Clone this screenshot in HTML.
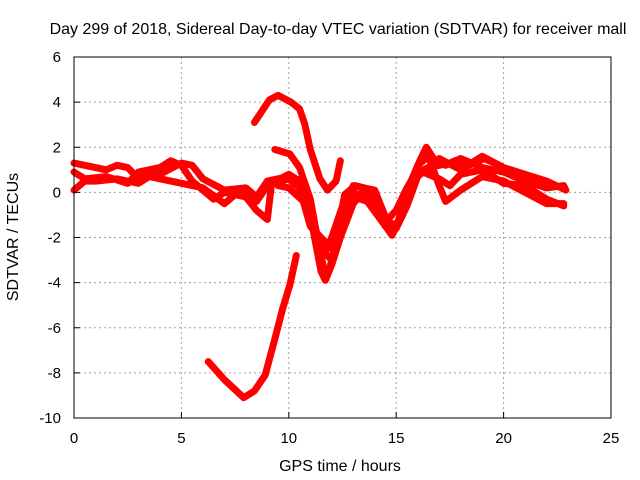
<!DOCTYPE html>
<html><head><meta charset="utf-8"><style>
body{margin:0;background:#fff}
svg{display:block;font-family:"Liberation Sans",sans-serif}
</style></head><body>
<svg id="chart" width="640" height="480" viewBox="0 0 640 480">
<rect width="640" height="480" fill="#fff"/>
<text x="338" y="34" font-size="16" text-anchor="middle">Day 299 of 2018, Sidereal Day-to-day VTEC variation (SDTVAR) for receiver mall</text>
<text x="340" y="471" font-size="16" text-anchor="middle">GPS time / hours</text>
<text x="0" y="0" font-size="16" text-anchor="middle" transform="translate(18,237) rotate(-90)">SDTVAR / TECUs</text>
<g id="grid"></g><g id="series"></g><g id="axes"></g>
</svg>
<script>
const xTicks=[0,5,10,15,20,25];
const yTicks=[6,4,2,0,-2,-4,-6,-8,-10];
const s1=[[8.4,3.1],[9.1,4.1],[9.5,4.3],[10.1,4.0],[10.5,3.7],[10.75,3.0],[11.0,1.9],[11.45,0.6],[11.8,0.1],[12.2,0.5],[12.4,1.4]];
const s2=[[6.25,-7.5],[7.0,-8.3],[7.9,-9.1],[8.4,-8.8],[8.9,-8.1],[9.35,-6.5],[9.7,-5.2],[10.05,-4.1],[10.35,-2.8]];
const s3=[[9.35,1.9],[10.05,1.7],[10.5,1.1],[11.0,-0.3],[11.35,-2.1],[11.7,-3.7],[11.9,-3.4],[12.3,-1.7],[12.6,-0.1],[13.1,0.3],[13.5,0.2],[14.0,-0.3],[14.5,-1.4],[14.85,-1.8],[15.2,-1.0],[15.6,0.3],[16.1,1.4],[16.4,2.0],[16.8,1.4],[17.3,1.2],[17.75,1.4],[18.4,1.2],[19.1,1.5],[19.8,1.2],[20.5,0.8],[21.2,0.6],[21.9,0.5],[22.4,0.3],[22.85,0.2]];
const s4=[[0,1.3],[1,1.1],[1.5,1.0],[2,1.2],[2.5,1.1],[3,0.6],[4,0.8],[5,1.3],[5.5,1.2],[6,0.6],[7,0.1],[8,0.2],[8.5,-0.2],[9,0.5],[9.5,0.6],[10,0.7],[10.5,0.4],[11,-0.8],[11.5,-2.5],[12,-3.0],[12.3,-2.2],[12.6,-0.5],[13,-0.2],[14,-0.5],[14.5,-1.5],[15,-1.5],[15.5,-0.3],[16,0.9],[16.5,1.1],[17.5,1.3],[18,1.5],[19,1.1],[20,0.9],[21,0.5],[22,0.2],[22.8,0.3]];
const s5=[[0,0.1],[0.5,0.5],[1,0.5],[2,0.6],[3,0.4],[3.5,0.7],[4,0.6],[5,0.4],[6,0.2],[7,-0.5],[7.5,-0.1],[8,0.1],[8.5,-0.4],[9,0.3],[10,0.8],[10.5,0.5],[11,-1.0],[11.5,-3.5],[11.7,-3.9],[12,-3.2],[12.4,-2.0],[13,-0.5],[13.5,0.1],[14,-0.3],[14.5,-1.3],[15,-0.8],[15.5,0.2],[16,1.0],[17,0.6],[17.5,0.3],[18,0.8],[19,1.0],[20,0.4],[21,0.3],[22,-0.3],[22.8,-0.6]];
const s6=[[0,0.9],[0.5,0.6],[1.5,0.7],[2.5,0.4],[3,0.9],[4,1.1],[4.5,1.4],[5,1.2],[5.5,0.5],[6.5,-0.3],[7,0],[8,-0.2],[8.5,-0.8],[9,-1.2],[9.2,0.4],[10,0.6],[10.5,0.2],[11,-1.5],[11.5,-2.0],[12,-2.5],[12.5,-1.0],[13,0.3],[14,0.1],[14.5,-1.1],[15,-1.6],[15.5,-0.6],[16,0.7],[17,1.5],[18,1.0],[19,1.6],[20,1.1],[21,0.8],[22,0.5],[22.9,0.1]];
const s7=[[9.5,0.3],[10,0.2],[10.8,-0.5],[11.2,-1.8],[11.6,-2.8],[12,-2.0],[12.5,-0.6],[13,0],[13.5,-0.2],[14.5,-1.5],[14.8,-1.9],[15.3,-1.0],[16,1.2],[16.5,1.6],[17,0.3],[17.3,-0.4],[18,0.1],[19,0.7],[20,0.5],[21,0],[22,-0.5],[22.8,-0.5]];
const allSeries=[s1,s2,s3,s4,s5,s6,s7];
const X0=74,X1=611,Y0=418,Y1=57;
const sx=t=>X0+(t-0)/(25-0)*(X1-X0);
const sy=v=>Y0-(v+10)/16*(Y0-Y1);
const NS='http://www.w3.org/2000/svg';
const mk=(tag,attrs,parent)=>{const e=document.createElementNS(NS,tag);for(const k in attrs)e.setAttribute(k,attrs[k]);parent.appendChild(e);return e;};
const grid=document.getElementById('grid'),axes=document.getElementById('axes'),ser=document.getElementById('series');
xTicks.forEach(t=>{
  if(t>0&&t<25){const g=mk('line',{x1:sx(t),x2:sx(t),y1:Y1,y2:Y0,stroke:'#a0a0a0','stroke-dasharray':'2,3'},grid);
  
  }
  const tk=mk('line',{x1:sx(t),x2:sx(t),y1:Y0,y2:Y0-6,stroke:'#000'},axes);
  
  
  const lb=mk('text',{x:sx(t),y:Y0+25,'font-size':15,'text-anchor':'middle'},axes);lb.textContent=t;
  
  
});
yTicks.forEach(v=>{
  if(v>-10&&v<6){const g=mk('line',{x1:X0,x2:X1,y1:sy(v),y2:sy(v),stroke:'#a0a0a0','stroke-dasharray':'2,3'},grid);
  
  }
  const tk=mk('line',{x1:X0,x2:X0+6,y1:sy(v),y2:sy(v),stroke:'#000'},axes);
  
  
  const lb=mk('text',{x:X0-13,y:sy(v)+5,'font-size':15,'text-anchor':'end'},axes);lb.textContent=v;
  
  
});
const fr=mk('rect',{x:X0,y:Y1,width:X1-X0,height:Y0-Y1,fill:'none',stroke:'#000'},axes);


allSeries.forEach((s,i)=>{
  const p=mk('polyline',{points:s.map(d=>sx(d[0])+','+sy(d[1])).join(' '),fill:'none',stroke:'#ff0000','stroke-width':7,'stroke-linejoin':'round','stroke-linecap':'round'},ser);
  
  
});
</script>
</body></html>
